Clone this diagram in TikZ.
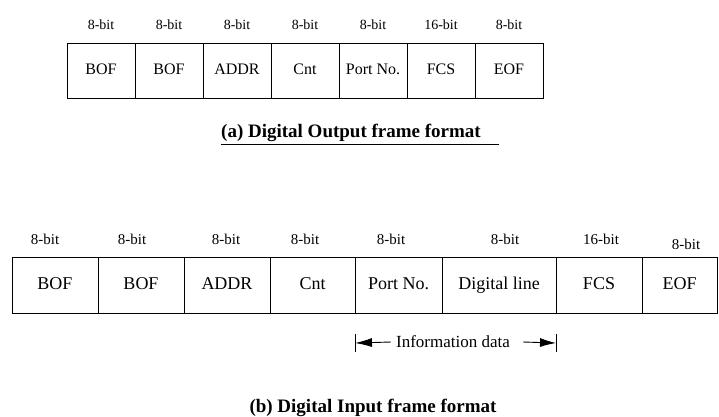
\documentclass[tikz,border=0pt]{standalone}
\usepackage{fontspec}
\setmainfont{Liberation Serif}
\usetikzlibrary{positioning,arrows.meta}

\begin{document}
\begin{tikzpicture}[x=1pt,y=-1pt,
  field/.style = {shape=rectangle, draw, line width=0.9pt, outer sep=0pt,
    inner sep=0pt, minimum height=55pt, text height=11pt, text depth=3pt,
    font=\fontsize{16}{16}\selectfont},
  bigfield/.style = {field, minimum height=56pt, text height=12pt, text depth=4pt,
    font=\fontsize{18}{18}\selectfont},
  bits/.style = {inner sep=0pt, font=\fontsize{14}{14}\selectfont},
  bigbits/.style = {inner sep=0pt, font=\fontsize{15}{15}\selectfont},
  caption/.style = {inner sep=0pt, font=\fontsize{19}{19}\selectfont\bfseries}]
  \useasboundingbox (0,0) rectangle (719,416);

  % (a) output frame
  \node[field, minimum width=68pt] (obof1) at (101,70.5) {BOF};
  \node[field, minimum width=68pt, right=0pt of obof1] (obof2) {BOF};
  \node[field, minimum width=68pt, right=0pt of obof2] (oaddr) {ADDR};
  \node[field, minimum width=68pt, right=0pt of oaddr] (ocnt) {Cnt};
  \node[field, minimum width=68pt, right=0pt of ocnt] (oport) {Port No.};
  \node[field, minimum width=68pt, right=0pt of oport] (ofcs) {FCS};
  \node[field, minimum width=68pt, right=0pt of ofcs] (oeof) {EOF};

  \node[bits, above=13pt of obof1] {8-bit};
  \node[bits, above=13pt of obof2] {8-bit};
  \node[bits, above=13pt of oaddr] {8-bit};
  \node[bits, above=13pt of ocnt] {8-bit};
  \node[bits, above=13pt of oport] {8-bit};
  \node[bits, above=13pt of ofcs] {16-bit};
  \node[bits, above=13pt of oeof] {8-bit};

  \node[caption] (capa) at (351,133) {(a) Digital Output frame format};
  \draw[line width=1pt] ([yshift=-3pt]capa.south west) -- ([xshift=18pt,yshift=-3pt]capa.south east);

  % (b) input frame
  \node[bigfield, minimum width=86pt] (ibof1) at (55,285) {BOF};
  \node[bigfield, minimum width=86pt, right=0pt of ibof1] (ibof2) {BOF};
  \node[bigfield, minimum width=86pt, right=0pt of ibof2] (iaddr) {ADDR};
  \node[bigfield, minimum width=85pt, right=0pt of iaddr] (icnt) {Cnt};
  \node[bigfield, minimum width=87pt, right=0pt of icnt] (iport) {Port No.};
  \node[bigfield, minimum width=114pt, right=0pt of iport] (idig) {Digital line};
  \node[bigfield, minimum width=86pt, right=0pt of idig] (ifcs) {FCS};
  \node[bigfield, minimum width=75pt, right=0pt of ifcs] (ieof) {EOF};

  \node[bigbits] at (45,239) {8-bit};
  \node[bigbits] at (132,239) {8-bit};
  \node[bigbits] at (226,239) {8-bit};
  \node[bigbits] at (305,239) {8-bit};
  \node[bigbits] at (391,239) {8-bit};
  \node[bigbits] at (505,239) {8-bit};
  \node[bigbits] at (601,239) {16-bit};
  \node[bigbits] at (686,244) {8-bit};

  \coordinate (lbar) at (icnt.east |- 0,343);
  \coordinate (rbar) at (idig.east |- 0,343);
  \draw[line width=0.9pt] ([yshift=-9pt]lbar) -- ([yshift=9pt]lbar);
  \draw[line width=0.9pt] ([yshift=-9pt]rbar) -- ([yshift=9pt]rbar);
  \node[inner sep=0pt, font=\fontsize{17}{17}\selectfont] (info) at (453,342) {Information data};
  \draw[line width=0.9pt, -{Latex[length=17pt,width=9pt]}] ([xshift=-5pt]info.west) -- (lbar);
  \draw[line width=0.9pt, -{Latex[length=16pt,width=9pt]}] ([xshift=13pt]info.east) -- (rbar);

  \node[caption] (capb) at (373,408) {(b) Digital Input frame format};
\end{tikzpicture}
\end{document}
